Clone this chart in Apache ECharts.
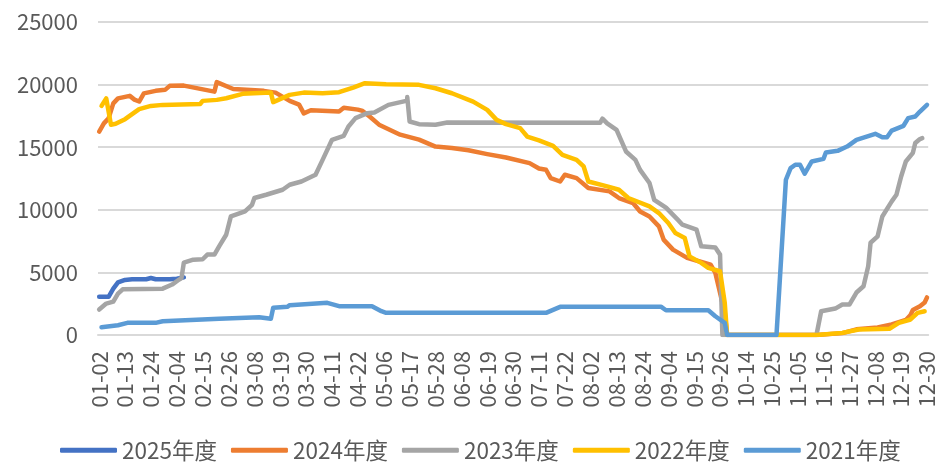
<!DOCTYPE html>
<html>
<head>
	<meta charset="UTF-8">
	<script type="text/javascript" src="https://cdn.jsdelivr.net/npm/echarts@6/dist/echarts.min.js"></script>
	<title></title>
	<style type="text/css">
		html,body{
			margin:0;
			padding:0;
			background:#fff;
		}
		#chart_box{
			width:938px;
			height:462px;
		}
	</style>
</head>
<body>
<div id="chart_box"></div>
<script type="text/javascript">
// 日期轴：闰年 01-02 ~ 12-30，节假日无数据的日子跳过
var skipDays = ['04-04', '05-01', '05-02', '05-03', '10-01', '10-02', '10-03', '10-04', '10-05', '10-06', '10-07'];
var dates = [];
for (var d = new Date(2024, 0, 2); d <= new Date(2024, 11, 30); d.setDate(d.getDate() + 1)) {
	var md = ('0' + (d.getMonth() + 1)).slice(-2) + '-' + ('0' + d.getDate()).slice(-2);
	if (skipDays.indexOf(md) < 0) dates.push(md);
}

var yearNames = ['2025年度', '2024年度', '2023年度', '2022年度', '2021年度'];
var yearColors = ['#4472C4', '#ED7D31', '#A5A5A5', '#FFC000', '#5B9BD5'];

// [日期序号, 数值]
var data2025 = [[0,3050],[4,3050],[6,3700],[8,4200],[11,4400],[14,4450],[20,4450],[22,4550],[24,4450],[30,4450],[33,4500],[36,4600]];
var data2024 = [[0,16250],[2,16900],[4,17300],[6,18500],[8,18900],[13,19100],[15,18800],[17,18650],[19,19300],[24,19500],[28,19580],[30,19900],[36,19920],
	[49,19440],[50,20200],[57,19650],[70,19500],[75,19360],[81,18700],[85,18400],[87,17700],[90,17950],[102,17850],[104,18150],[110,18000],[112,17900],
	[115,17450],[119,16800],[128,16000],[136,15600],[143,15050],[150,14930],[157,14750],[165,14450],[173,14180],[183,13730],[187,13300],[190,13200],
	[192,12530],[196,12260],[198,12800],[203,12530],[208,11740],[217,11470],[221,10940],[227,10540],[230,9870],[234,9470],[238,8680],[240,7620],
	[244,6820],[250,6160],[255,5890],[260,5620],[262,4960],[266,1770],[267,0],[305,0],[316,150],[322,450],[331,600],[337,840],[343,1200],[345,1600],
	[346,2000],[349,2300],[351,2600],[352,3000]];
var data2023 = [[0,2030],[3,2510],[6,2670],[8,3300],[10,3650],[27,3700],[31,4030],[34,4430],[35,4550],[36,5780],[40,6020],[44,6050],[46,6420],
	[49,6420],[51,7080],[54,8010],[56,9470],[62,9870],[65,10400],[66,10940],[71,11200],[78,11600],[81,12000],[86,12260],[92,12800],[95,13990],
	[99,15590],[104,15910],[106,16650],[109,17320],[114,17720],[117,17770],[123,18380],[131,18720],[131,19000],[132,17050],[136,16840],[143,16790],
	[148,16970],[213,16950],[214,17280],[216,16900],[220,16390],[224,14660],[228,13990],[230,13190],[234,12140],[236,10800],[241,10170],[246,9210],
	[248,8810],[254,8410],[256,7080],[262,6980],[264,6420],[265,0],[305,0],[307,1900],[313,2110],[316,2430],[319,2430],[322,3390],[325,3890],
	[327,5490],[328,7370],[331,7880],[333,9470],[337,10670],[339,11200],[341,12660],[343,13860],[346,14550],[347,15330],[349,15650],[350,15720]];
var data2022 = [[1,18300],[3,18900],[5,16800],[7,16870],[11,17240],[17,18040],[22,18300],[27,18380],[43,18460],[44,18700],[50,18780],[54,18910],
	[61,19260],[73,19360],[74,18600],[81,19180],[87,19360],[95,19300],[102,19390],[108,19760],[113,20110],[122,20030],[136,19980],[143,19710],
	[150,19310],[159,18640],[165,17980],[169,17180],[173,16840],[179,16520],[182,15850],[187,15550],[193,15100],[197,14390],[203,13990],[206,13460],
	[208,12260],[216,11870],[221,11600],[225,10940],[234,10270],[238,9740],[242,8950],[245,8150],[249,7750],[251,6280],[256,5760],[259,5360],
	[264,5090],[266,2570],[267,0],[305,0],[316,170],[323,440],[336,490],[340,970],[345,1240],[348,1770],[351,1900]];
var data2021 = [[1,620],[8,780],[12,970],[24,970],[27,1100],[51,1290],[68,1420],[73,1290],[74,2170],[80,2250],[81,2380],[97,2570],[102,2300],
	[116,2300],[120,1900],[122,1770],[190,1770],[196,2250],[239,2250],[241,1980],[259,1980],[262,1500],[266,970],[267,0],[288,0],[292,12400],
	[294,13330],[296,13600],[298,13600],[300,12880],[303,13860],[308,14070],[309,14580],[314,14710],[318,15050],[322,15590],[330,16070],[333,15800],
	[335,15800],[337,16330],[342,16710],[344,17320],[347,17450],[349,17850],[352,18380]];
var yearData = [data2025, data2024, data2023, data2022, data2021];

var labelFont = 'Noto Sans CJK SC';
var chart_box = echarts.init(document.getElementById('chart_box'));
var series = [];
for (var i = 0; i < yearNames.length; i++) {
	series.push({
		name: yearNames[i],
		type: 'line',
		symbol: 'none',
		data: yearData[i],
		color: yearColors[i],
		lineStyle: {width: 4.5, color: yearColors[i], cap: 'round', join: 'round'}
	});
}
option = {
	animation: false,
	grid: {left: 98, right: 9, top: 22, bottom: 127},
	legend: {
		data: yearNames,
		left: 55,
		top: 434,
		icon: 'roundRect',
		itemWidth: 57,
		itemHeight: 5,
		itemGap: 14,
		textStyle: {fontSize: 22.5, color: '#595959', fontFamily: labelFont}
	},
	xAxis: {
		type: 'category',
		data: dates,
		boundaryGap: true,
		axisLine: {lineStyle: {color: '#d9d9d9', width: 2}},
		axisTick: {show: false},
		axisLabel: {interval: 10, rotate: 90, margin: 16, fontSize: 22, color: '#595959', fontFamily: labelFont}
	},
	yAxis: {
		type: 'value',
		min: 0,
		max: 25000,
		interval: 5000,
		axisLine: {show: false},
		axisTick: {show: false},
		axisLabel: {
			margin: 20, fontSize: 22, color: '#595959', fontFamily: labelFont,
			formatter: function (v) { return String(v); }
		},
		splitLine: {lineStyle: {color: '#d9d9d9', width: 2}}
	},
	series: series
};
chart_box.setOption(option);
</script>
</body>
</html>
